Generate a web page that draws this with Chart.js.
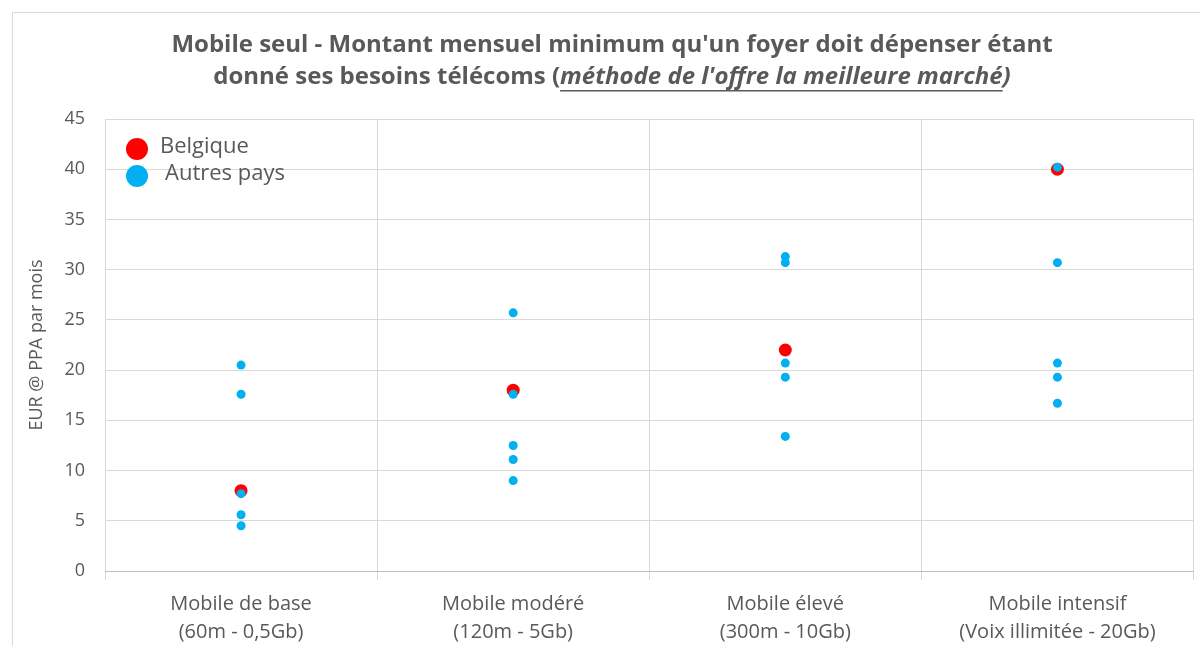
<!DOCTYPE html>
<html lang="fr">
<head>
  <meta charset="UTF-8">
  <title>Mobile seul - Montant mensuel minimum</title>
  <style>
    body { margin: 0; background: #fff; }
    canvas { display: block; }
  </style>
</head>
<body>
  <canvas id="chart" width="1200" height="646"></canvas>

  <script src="https://cdn.jsdelivr.net/npm/chart.js"></script>
  <script>
    const categories = [
      ['Mobile de base', '(60m - 0,5Gb)'],
      ['Mobile modéré', '(120m - 5Gb)'],
      ['Mobile élevé', '(300m - 10Gb)'],
      ['Mobile intensif', '(Voix illimitée - 20Gb)']
    ];
    const belgique = [8, 18, 22, 40];
    const autresPays = [
      [20.5, 17.6, 7.7, 5.6, 4.5],
      [25.7, 17.6, 12.5, 11.1, 9.0],
      [31.3, 30.7, 20.7, 19.3, 13.4],
      [40.2, 30.7, 20.7, 19.3, 16.7]
    ];
    const yTicks = [0, 5, 10, 15, 20, 25, 30, 35, 40, 45];

    const grey = '#595959';
    const font = '"Open Sans", sans-serif';

    // titre sur deux lignes, la 2e avec une partie en italique soulignée
    const titlePlugin = {
      id: 'titre',
      beforeDraw(chart) {
        const c = chart.ctx;
        c.save();
        c.strokeStyle = '#d9d9d9';
        c.lineWidth = 1;
        c.strokeRect(12.5, 12.5, 1200, 700);
        c.restore();
      },
      afterDraw(chart) {
        const c = chart.ctx;
        c.save();
        c.fillStyle = grey;
        c.textBaseline = 'middle';
        c.textAlign = 'left';
        const bold = 'bold 24px ' + font;
        const boldIt = 'italic bold 24px ' + font;
        const lines = [
          [{ t: "Mobile seul - Montant mensuel minimum qu'un foyer doit dépenser étant", f: bold }],
          [{ t: 'donné ses besoins télécoms (', f: bold },
           { t: "méthode de l'offre la meilleure marché", f: boldIt, u: true },
           { t: ')', f: boldIt }]
        ];
        const ys = [45, 77];
        lines.forEach((segs, li) => {
          let w = 0;
          segs.forEach(s => { c.font = s.f; w += c.measureText(s.t).width; });
          let x = 612 - w / 2;
          segs.forEach(s => {
            c.font = s.f;
            const sw = c.measureText(s.t).width;
            c.fillText(s.t, x, ys[li]);
            if (s.u) {
              c.fillRect(x, ys[li] + 13, sw, 1.5);
            }
            x += sw;
          });
        });

        // légende dans la zone du graphique
        const items = [
          { label: chart.data.datasets[1].label, color: chart.data.datasets[1].backgroundColor, y: 147, tx: 160 },
          { label: chart.data.datasets[0].label, color: chart.data.datasets[0].backgroundColor, y: 174, tx: 165 }
        ];
        c.font = '22px ' + font;
        items.forEach(it => {
          c.fillStyle = it.color;
          c.beginPath();
          c.arc(137, it.y + 2, 11, 0, Math.PI * 2);
          c.fill();
          c.fillStyle = grey;
          c.fillText(it.label, it.tx, it.y);
        });
        c.restore();
      }
    };

    const autresPoints = autresPays.flatMap((vals, i) => vals.map(v => ({ x: categories[i], y: v })));
    const belgiquePoints = belgique.map((v, i) => ({ x: categories[i], y: v }));

    new Chart(document.getElementById('chart'), {
      type: 'line',
      data: {
        labels: categories,
        datasets: [
          {
            label: 'Autres pays',
            data: autresPoints,
            showLine: false,
            backgroundColor: '#00b0f0',
            borderColor: '#00b0f0',
            pointRadius: 4.5,
            pointBorderWidth: 0,
            order: 0
          },
          {
            label: 'Belgique',
            data: belgiquePoints,
            showLine: false,
            backgroundColor: '#ff0000',
            borderColor: '#ff0000',
            pointRadius: 6.5,
            pointBorderWidth: 0,
            order: 1
          }
        ]
      },
      options: {
        responsive: false,
        animation: false,
        layout: { padding: { top: 119, right: 3, left: 26, bottom: 0 } },
        plugins: {
          legend: { display: false },
          tooltip: { enabled: false },
          title: { display: false }
        },
        scales: {
          x: {
            offset: true,
            grid: { offset: true, color: '#d9d9d9', tickLength: 9 },
            border: { color: '#bfbfbf' },
            ticks: { color: grey, font: { family: font, size: 20, lineHeight: 1.4 }, padding: 10, maxRotation: 0 },
            afterFit: s => { s.height = 75; }
          },
          y: {
            min: 0,
            max: 45,
            afterBuildTicks: s => { s.ticks = yTicks.map(v => ({ value: v })); },
            grid: { color: '#d9d9d9', drawTicks: false },
            border: { display: false },
            ticks: { color: grey, font: { family: font, size: 18 }, padding: 20 },
            title: { display: true, text: 'EUR @ PPA par mois', color: grey, font: { family: font, size: 18 }, padding: 0 },
            afterFit: s => { s.width = 79; }
          }
        }
      },
      plugins: [titlePlugin]
    });
  </script>
</body>
</html>
